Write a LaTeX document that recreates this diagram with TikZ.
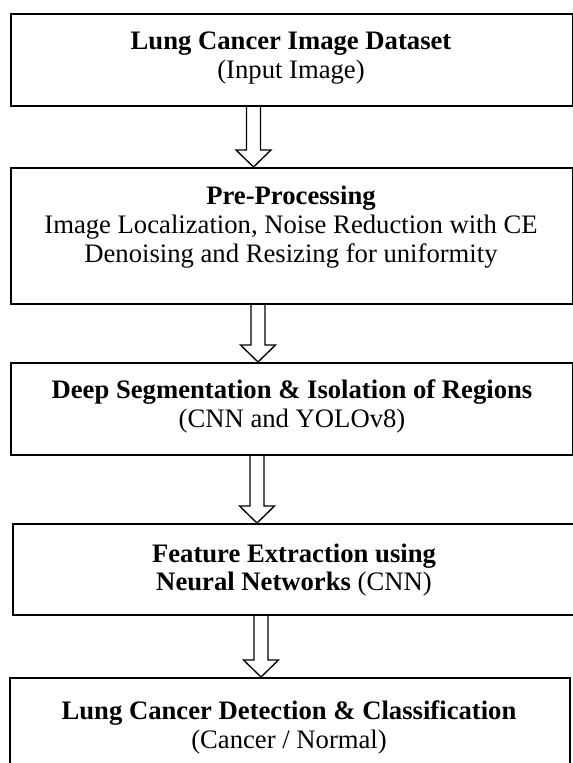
\documentclass[tikz,border=0pt]{standalone}
\usepackage{fontspec}
\setmainfont{Liberation Serif}
\usetikzlibrary{calc}

\tikzset{
  stage/.style={draw, line width=1.3pt, inner sep=0pt, anchor=north west},
  stagetext/.style={align=center, inner sep=0pt, font=\fontsize{20}{21.6}\selectfont},
  hollow/.style={draw, line width=1pt, line join=miter},
}

% hollow block arrow from one stage down to the next, shaft centred at x
\newcommand{\flowarrow}[3]{%
  \coordinate (ax) at (#3,0);
  \draw[hollow] ($(#1.south -| ax)+(-7,0)$) -- ($(#2.north -| ax)+(-7,-17)$)
    -- ($(#2.north -| ax)+(-17.5,-17)$) -- (#2.north -| ax)
    -- ($(#2.north -| ax)+(17.5,-17)$) -- ($(#2.north -| ax)+(7,-17)$)
    -- ($(#1.south -| ax)+(7,0)$);
}

\begin{document}
\begin{tikzpicture}[x=0.75pt,y=-0.75pt]
\useasboundingbox (0,0) rectangle (573,763);
% stages
\node[stage, minimum width=421.5pt, minimum height=69pt] (data) at (10,13) {};
\node[stage, minimum width=421.5pt, minimum height=102pt] (pre) at (10,167) {};
\node[stage, minimum width=421.5pt, minimum height=69pt] (seg) at (10,362) {};
\node[stage, minimum width=424.5pt, minimum height=68.25pt] (feat) at (12,523) {};
\node[stage, minimum width=420pt, minimum height=92.25pt] (cls) at (9,677) {};
% texts
\node[stagetext] (data-txt) at (291,58) {\textbf{Lung Cancer Image Dataset}\\(Input Image)};
\node[stagetext] (pre-txt) at (291,227) {\textbf{Pre-Processing}\\Image Localization, Noise Reduction with CE\\Denoising and Resizing for uniformity};
\node[stagetext] (seg-txt) at (292,406.5) {\textbf{Deep Segmentation \& Isolation of Regions}\\(CNN and YOLOv8)};
\node[stagetext] (feat-txt) at (294,570) {\textbf{Feature Extraction using}\\\textbf{Neural Networks} (CNN)};
\node[stagetext] (cls-txt) at (289,727.5) {\textbf{Lung Cancer Detection \& Classification}\\(Cancer / Normal)};
% arrows
\flowarrow{data}{pre}{253.5}
\flowarrow{pre}{seg}{258}
\flowarrow{seg}{feat}{257}
\flowarrow{feat}{cls}{261}
\end{tikzpicture}
\end{document}
